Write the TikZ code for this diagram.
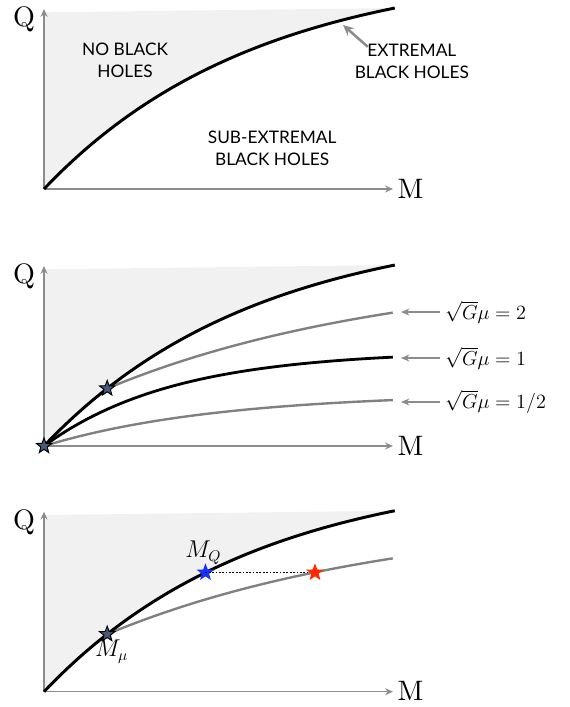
\documentclass[tikz,border=0pt]{standalone}
\usepackage{fontspec}
\newfontfamily\capsfont{Lato}
\newfontfamily\axisfont{lmroman10-regular}[Extension=.otf]
\usetikzlibrary{arrows.meta, shapes.geometric}

\definecolor{regiongray}{RGB}{241,241,241}
\definecolor{axisgray}{RGB}{140,140,140}
\definecolor{curvegray}{RGB}{128,128,128}
\definecolor{starslate}{RGB}{72,92,122}
\definecolor{starblue}{RGB}{20,50,255}
\definecolor{starred}{RGB}{255,40,0}

\begin{document}
\begin{tikzpicture}[
    declare function={
        extr(\t)=(1-exp(-1.65*\t))/(1-exp(-1.65));
        gtwo(\t)=extr(0.18)+0.672*(1-exp(-1.2*(\t-0.18)));
        bone(\t)=0.527*(1-exp(-2.7*\t));
        ghalf(\t)=0.294*(1-exp(-2*\t));
    },
    qmaxis/.style={axisgray, line width=1.1pt, -{Stealth[length=5.5pt, width=5pt]}},
    extremal/.style={black, line width=2.1pt},
    blackcurve/.style={black, line width=2pt},
    graycurve/.style={curvegray, line width=1.7pt},
    forbidden/.style={fill=regiongray},
    axislabel/.style={font=\axisfont\fontsize{20}{24}\selectfont, inner sep=0pt, anchor=base},
    regiontext/.style={font=\capsfont\fontsize{12.3}{15.6}\selectfont, align=center},
    mulabel/.style={font=\fontsize{14.5}{17}\selectfont, anchor=west, inner sep=3.5pt},
    muarrow/.style={axisgray, line width=1.2pt, -{Stealth[length=6pt, width=5pt]}},
    pointer/.style={axisgray, line width=1.8pt, -{Stealth[length=7.5pt, width=7pt]}},
    darkstar/.style={star, star points=5, star point ratio=2.4, minimum size=0.4cm,
        inner sep=0pt, draw=black, line width=0.7pt, fill=starslate},
    colorstar/.style={star, star points=5, star point ratio=2.4, minimum size=0.46cm,
        inner sep=0pt, fill=#1},
    masslabel/.style={font=\fontsize{16}{19}\selectfont, inner sep=0pt, anchor=base west}
]

\useasboundingbox (0,0) rectangle (14.225,17.675);

% ============ PANEL 1: PHASE DIAGRAM ============
\begin{scope}[shift={(1.1,12.95)}, x=8.775cm, y=4.525cm]
    \fill[forbidden] (0,0) -- plot[domain=0:1, samples=60] (\x,{extr(\x)}) -- (0,0.976) -- cycle;

    % Axes
    \coordinate (o1) at (0,0);
    \coordinate (q1) at (0,0.994);
    \coordinate (m1) at (0.994,0);
    \draw[qmaxis] (o1) -- (q1);
    \draw[qmaxis] (o1) -- (m1);
    \node[axislabel] (qlab1) at (-0.057,0.895) {Q};
    \node[axislabel] (mlab1) at (1.044,-0.05) {M};

    % Extremality bound
    \draw[extremal] plot[domain=0:1, samples=60, smooth] (\x,{extr(\x)});

    % Regions
    \node[regiontext] (nobh) at (0.231,0.713) {NO BLACK\\HOLES};
    \node[regiontext] (subext) at (0.650,0.227) {SUB-EXTREMAL\\BLACK HOLES};
    \node[regiontext] (ext) at (1.048,0.707) {EXTREMAL\\BLACK HOLES};
    \coordinate (exttip) at (0.852,0.906);
    \draw[pointer] ([xshift=0.45cm, yshift=-0.2cm]ext.north west) -- (exttip);
\end{scope}

% ============ PANEL 2: FIXED MU CURVES ============
\begin{scope}[shift={(1.1,6.525)}, x=8.775cm, y=4.525cm]
    \fill[forbidden] (0,0) -- plot[domain=0:1, samples=60] (\x,{extr(\x)}) -- (0,0.976) -- cycle;

    % Axes
    \coordinate (o2) at (0,0);
    \coordinate (q2) at (0,0.994);
    \coordinate (m2) at (0.994,0);
    \draw[qmaxis] (o2) -- (q2);
    \draw[qmaxis] (o2) -- (m2);
    \node[axislabel] (qlab2) at (-0.057,0.895) {Q};
    \node[axislabel] (mlab2) at (1.044,-0.05) {M};

    % Curves
    \draw[graycurve] plot[domain=0:0.994, samples=50, smooth] (\x,{ghalf(\x)});
    \draw[blackcurve] plot[domain=0:0.994, samples=50, smooth] (\x,{bone(\x)});
    \draw[graycurve] plot[domain=0.18:0.994, samples=50, smooth] (\x,{gtwo(\x)});
    \draw[extremal] plot[domain=0:1, samples=60, smooth] (\x,{extr(\x)});

    % Stars
    \node[darkstar] (s0) at (0,0) {};
    \node[darkstar] (s1) at (0.18,{extr(0.18)}) {};

    % Labels
    \node[mulabel] (mu2) at (1.128,0.740) {$\sqrt{G}\mu = 2$};
    \node[mulabel] (mu1) at (1.128,0.486) {$\sqrt{G}\mu = 1$};
    \node[mulabel] (muh) at (1.128,0.243) {$\sqrt{G}\mu = 1/2$};
    \coordinate (mu2tip) at (1.017,0.740);
    \coordinate (mu1tip) at (1.017,0.486);
    \coordinate (muhtip) at (1.017,0.243);
    \draw[muarrow] (mu2.west) -- (mu2tip);
    \draw[muarrow] (mu1.west) -- (mu1tip);
    \draw[muarrow] (muh.west) -- (muhtip);
\end{scope}

% ============ PANEL 3: DISCHARGE AT FIXED Q ============
\begin{scope}[shift={(1.1,0.3825)}, x=8.775cm, y=4.525cm]
    \fill[forbidden] (0,0) -- plot[domain=0:1, samples=60] (\x,{extr(\x)}) -- (0,0.976) -- cycle;

    % Axes
    \coordinate (o3) at (0,0);
    \coordinate (q3) at (0,0.994);
    \coordinate (m3) at (0.994,0);
    \draw[qmaxis] (o3) -- (q3);
    \draw[qmaxis] (o3) -- (m3);
    \node[axislabel] (qlab3) at (-0.057,0.895) {Q};
    \node[axislabel] (mlab3) at (1.044,-0.05) {M};

    % Curves
    \draw[graycurve] plot[domain=0.18:0.994, samples=50, smooth] (\x,{gtwo(\x)});
    \draw[extremal] plot[domain=0:1, samples=60, smooth] (\x,{extr(\x)});

    % Stars
    \node[darkstar] (smu) at (0.18,{extr(0.18)}) {};
    \node[colorstar=starblue] (sq) at (0.46,{extr(0.46)}) {};
    \node[colorstar=starred] (sred) at (0.772,{extr(0.46)}) {};
    \draw[line width=0.7pt, dash pattern=on 1.2pt off 1.2pt] (sq.center) -- (sred.west);

    % Labels
    \node[masslabel] (mqlab) at (0.402,0.739) {$M_Q$};
    \node[masslabel] (mmulab) at (0.145,0.192) {$M_\mu$};
\end{scope}

\end{tikzpicture}
\end{document}
